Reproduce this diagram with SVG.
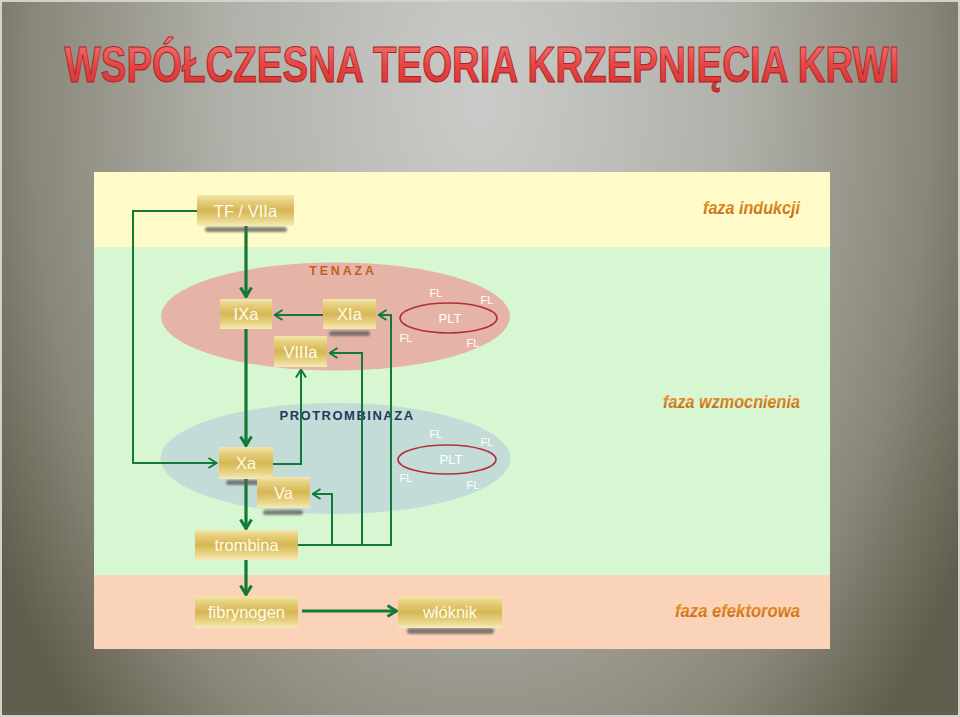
<svg xmlns="http://www.w3.org/2000/svg" width="960" height="717" viewBox="0 0 960 717">
<defs>
<radialGradient id="bg" gradientUnits="userSpaceOnUse" cx="480" cy="60" r="560" gradientTransform="translate(0,-60) scale(1,1.6) translate(0,37)">
<stop offset="0" stop-color="#cbcbc9"/>
<stop offset="0.45" stop-color="#b1b1ab"/>
<stop offset="0.8" stop-color="#8a8779"/>
<stop offset="1" stop-color="#625e4d"/>
</radialGradient>
<linearGradient id="gold" x1="0" y1="0" x2="0" y2="1">
<stop offset="0" stop-color="#f3e6ad"/>
<stop offset="0.2" stop-color="#e6cf7c"/>
<stop offset="0.5" stop-color="#d6b655"/>
<stop offset="0.8" stop-color="#e8d484"/>
<stop offset="1" stop-color="#f5ebbb"/>
</linearGradient>
<linearGradient id="titleFill" x1="0" y1="0" x2="0" y2="1">
<stop offset="0" stop-color="#f87a7a"/>
<stop offset="0.5" stop-color="#e84545"/>
<stop offset="1" stop-color="#d43030"/>
</linearGradient>
<linearGradient id="phase" x1="0" y1="0" x2="0" y2="1">
<stop offset="0" stop-color="#f0a83a"/>
<stop offset="1" stop-color="#c2600e"/>
</linearGradient>
<filter id="blur" x="-20%" y="-100%" width="140%" height="300%"><feGaussianBlur stdDeviation="1.3"/></filter>
<marker id="ah" viewBox="0 0 12 14" refX="11" refY="7" markerWidth="12" markerHeight="14" markerUnits="userSpaceOnUse" orient="auto">
<path d="M1.5,1.5 L10.5,7 L1.5,12.5" fill="none" stroke="#127a36" stroke-width="3"/>
</marker>
<marker id="as" viewBox="0 0 10 12" refX="9.5" refY="6" markerWidth="10" markerHeight="12" markerUnits="userSpaceOnUse" orient="auto">
<path d="M1,1 L9,6 L1,11" fill="none" stroke="#127a36" stroke-width="2"/>
</marker>
</defs>
<style>
.node rect.box{fill:url(#gold);}
.node text{font-family:"Liberation Sans",Arial,sans-serif;font-size:16.5px;fill:#fffbea;text-anchor:middle;}
.sh{fill:#5a5a5a;opacity:0.75;filter:url(#blur);}
.thick{fill:none;stroke:#127a36;stroke-width:3.2;marker-end:url(#ah);}
.thin{fill:none;stroke:#127a36;stroke-width:2;marker-end:url(#as);}
.fl{font-family:"Liberation Sans",Arial,sans-serif;font-size:11px;fill:#ffffff;text-anchor:middle;}
.plt{font-family:"Liberation Sans",Arial,sans-serif;font-size:13px;fill:#ffffff;text-anchor:middle;}
.pltE{fill:none;stroke:#b0303a;stroke-width:1.6;}
.phase{font-family:"Liberation Sans",Arial,sans-serif;font-weight:bold;font-style:italic;font-size:19px;fill:url(#phase);text-anchor:end;}
</style>
<rect x="0" y="0" width="960" height="717" fill="url(#bg)"/>
<rect x="1" y="1" width="958" height="715" fill="none" stroke="#d2d2cc" stroke-width="2"/>
<g id="title" transform="translate(482,82) scale(0.7,1)">
<text x="0" y="0" font-family="Liberation Sans,Arial,sans-serif" font-weight="bold" font-size="50" fill="url(#titleFill)" stroke="#a82424" stroke-width="1" textLength="1193" lengthAdjust="spacingAndGlyphs" text-anchor="middle">WSPÓŁCZESNA TEORIA KRZEPNIĘCIA KRWI</text>
</g>

<g id="panel">
<rect x="94" y="172" width="736" height="75" fill="#fefbc8"/>
<rect x="94" y="247" width="736" height="328" fill="#d7f7d3"/>
<rect x="94" y="575" width="736" height="74" fill="#fbd3b8"/>
</g>

<g id="tenaza">
<ellipse cx="335.5" cy="316.5" rx="174.5" ry="54" fill="#e6b3a7"/>
<text x="343" y="274.5" font-family="Liberation Sans,Arial,sans-serif" font-weight="bold" font-size="12.5" letter-spacing="2.8" fill="#c0601c" text-anchor="middle">TENAZA</text>
<ellipse class="pltE" cx="448.5" cy="318" rx="48.5" ry="15"/>
<text class="plt" x="450" y="322.5">PLT</text>
<text class="fl" x="436" y="297">FL</text>
<text class="fl" x="487" y="304">FL</text>
<text class="fl" x="406" y="342">FL</text>
<text class="fl" x="473" y="347">FL</text>
</g>

<g id="protrombinaza">
<ellipse cx="335.5" cy="458.5" rx="175" ry="55.5" fill="#c4dcd7"/>
<text x="347" y="419.5" font-family="Liberation Sans,Arial,sans-serif" font-weight="bold" font-size="13" letter-spacing="1.5" fill="#1f3b5c" text-anchor="middle">PROTROMBINAZA</text>
<ellipse class="pltE" cx="447" cy="459.5" rx="49" ry="14.5"/>
<text class="plt" x="451" y="464">PLT</text>
<text class="fl" x="436" y="438">FL</text>
<text class="fl" x="487" y="446">FL</text>
<text class="fl" x="406" y="482">FL</text>
<text class="fl" x="473" y="489">FL</text>
</g>

<g id="connectors">
<path class="thin" d="M197,211 H133 V463 H217"/>
<path class="thick" d="M246,226 V297"/>
<path class="thin" d="M323,315 H274"/>
<path class="thick" d="M246,329 V446"/>
<path class="thin" d="M273,464 H301 V369"/>
<path class="thick" d="M246,479 V529"/>
<path class="thin" d="M298,545 H332 V494 H312"/>
<path class="thin" d="M332,545 H362 V353 H329"/>
<path class="thin" d="M362,545 H391 V315 H378"/>
<path class="thick" d="M246,560 V595"/>
<path class="thick" d="M302,611 H397"/>
</g>

<g id="n-tf" class="node">
<rect class="sh" x="205" y="227" width="82" height="5" rx="2.5"/>
<rect class="box" x="197" y="195" width="97" height="31"/>
<text x="245.5" y="216.5">TF / VIIa</text>
</g>
<g id="n-ixa" class="node">
<rect class="box" x="220" y="299" width="52" height="30"/>
<text x="246" y="320">IXa</text>
</g>
<g id="n-xia" class="node">
<rect class="sh" x="329" y="331" width="41" height="5" rx="2.5"/>
<rect class="box" x="323" y="299" width="53" height="30"/>
<text x="349.5" y="320">XIa</text>
</g>
<g id="n-viiia" class="node">
<rect class="box" x="274" y="336" width="53" height="31"/>
<text x="300.5" y="357.5">VIIIa</text>
</g>
<g id="n-xa" class="node">
<rect class="sh" x="226" y="480" width="41" height="5" rx="2.5"/>
<rect class="box" x="219" y="447" width="54" height="32"/>
<text x="246" y="469">Xa</text>
</g>
<g id="n-va" class="node">
<rect class="sh" x="263" y="510" width="40" height="5" rx="2.5"/>
<rect class="box" x="257" y="477" width="53" height="31"/>
<text x="283.5" y="498.5">Va</text>
</g>
<g id="n-trombina" class="node">
<rect class="box" x="195" y="530" width="103" height="30"/>
<text x="246.5" y="551">trombina</text>
</g>
<g id="n-fibrynogen" class="node">
<rect class="box" x="195" y="596" width="103" height="32"/>
<text x="246.5" y="618">fibrynogen</text>
</g>
<g id="n-wloknik" class="node">
<rect class="sh" x="407" y="628" width="87" height="6" rx="3"/>
<rect class="box" x="398" y="596" width="104" height="32"/>
<text x="450" y="618">włóknik</text>
</g>

<g id="phases">
<text class="phase" x="800" y="214" textLength="97" lengthAdjust="spacingAndGlyphs">faza indukcji</text>
<text class="phase" x="800" y="408" textLength="137" lengthAdjust="spacingAndGlyphs">faza wzmocnienia</text>
<text class="phase" x="800" y="617" textLength="125" lengthAdjust="spacingAndGlyphs">faza efektorowa</text>
</g>
</svg>
